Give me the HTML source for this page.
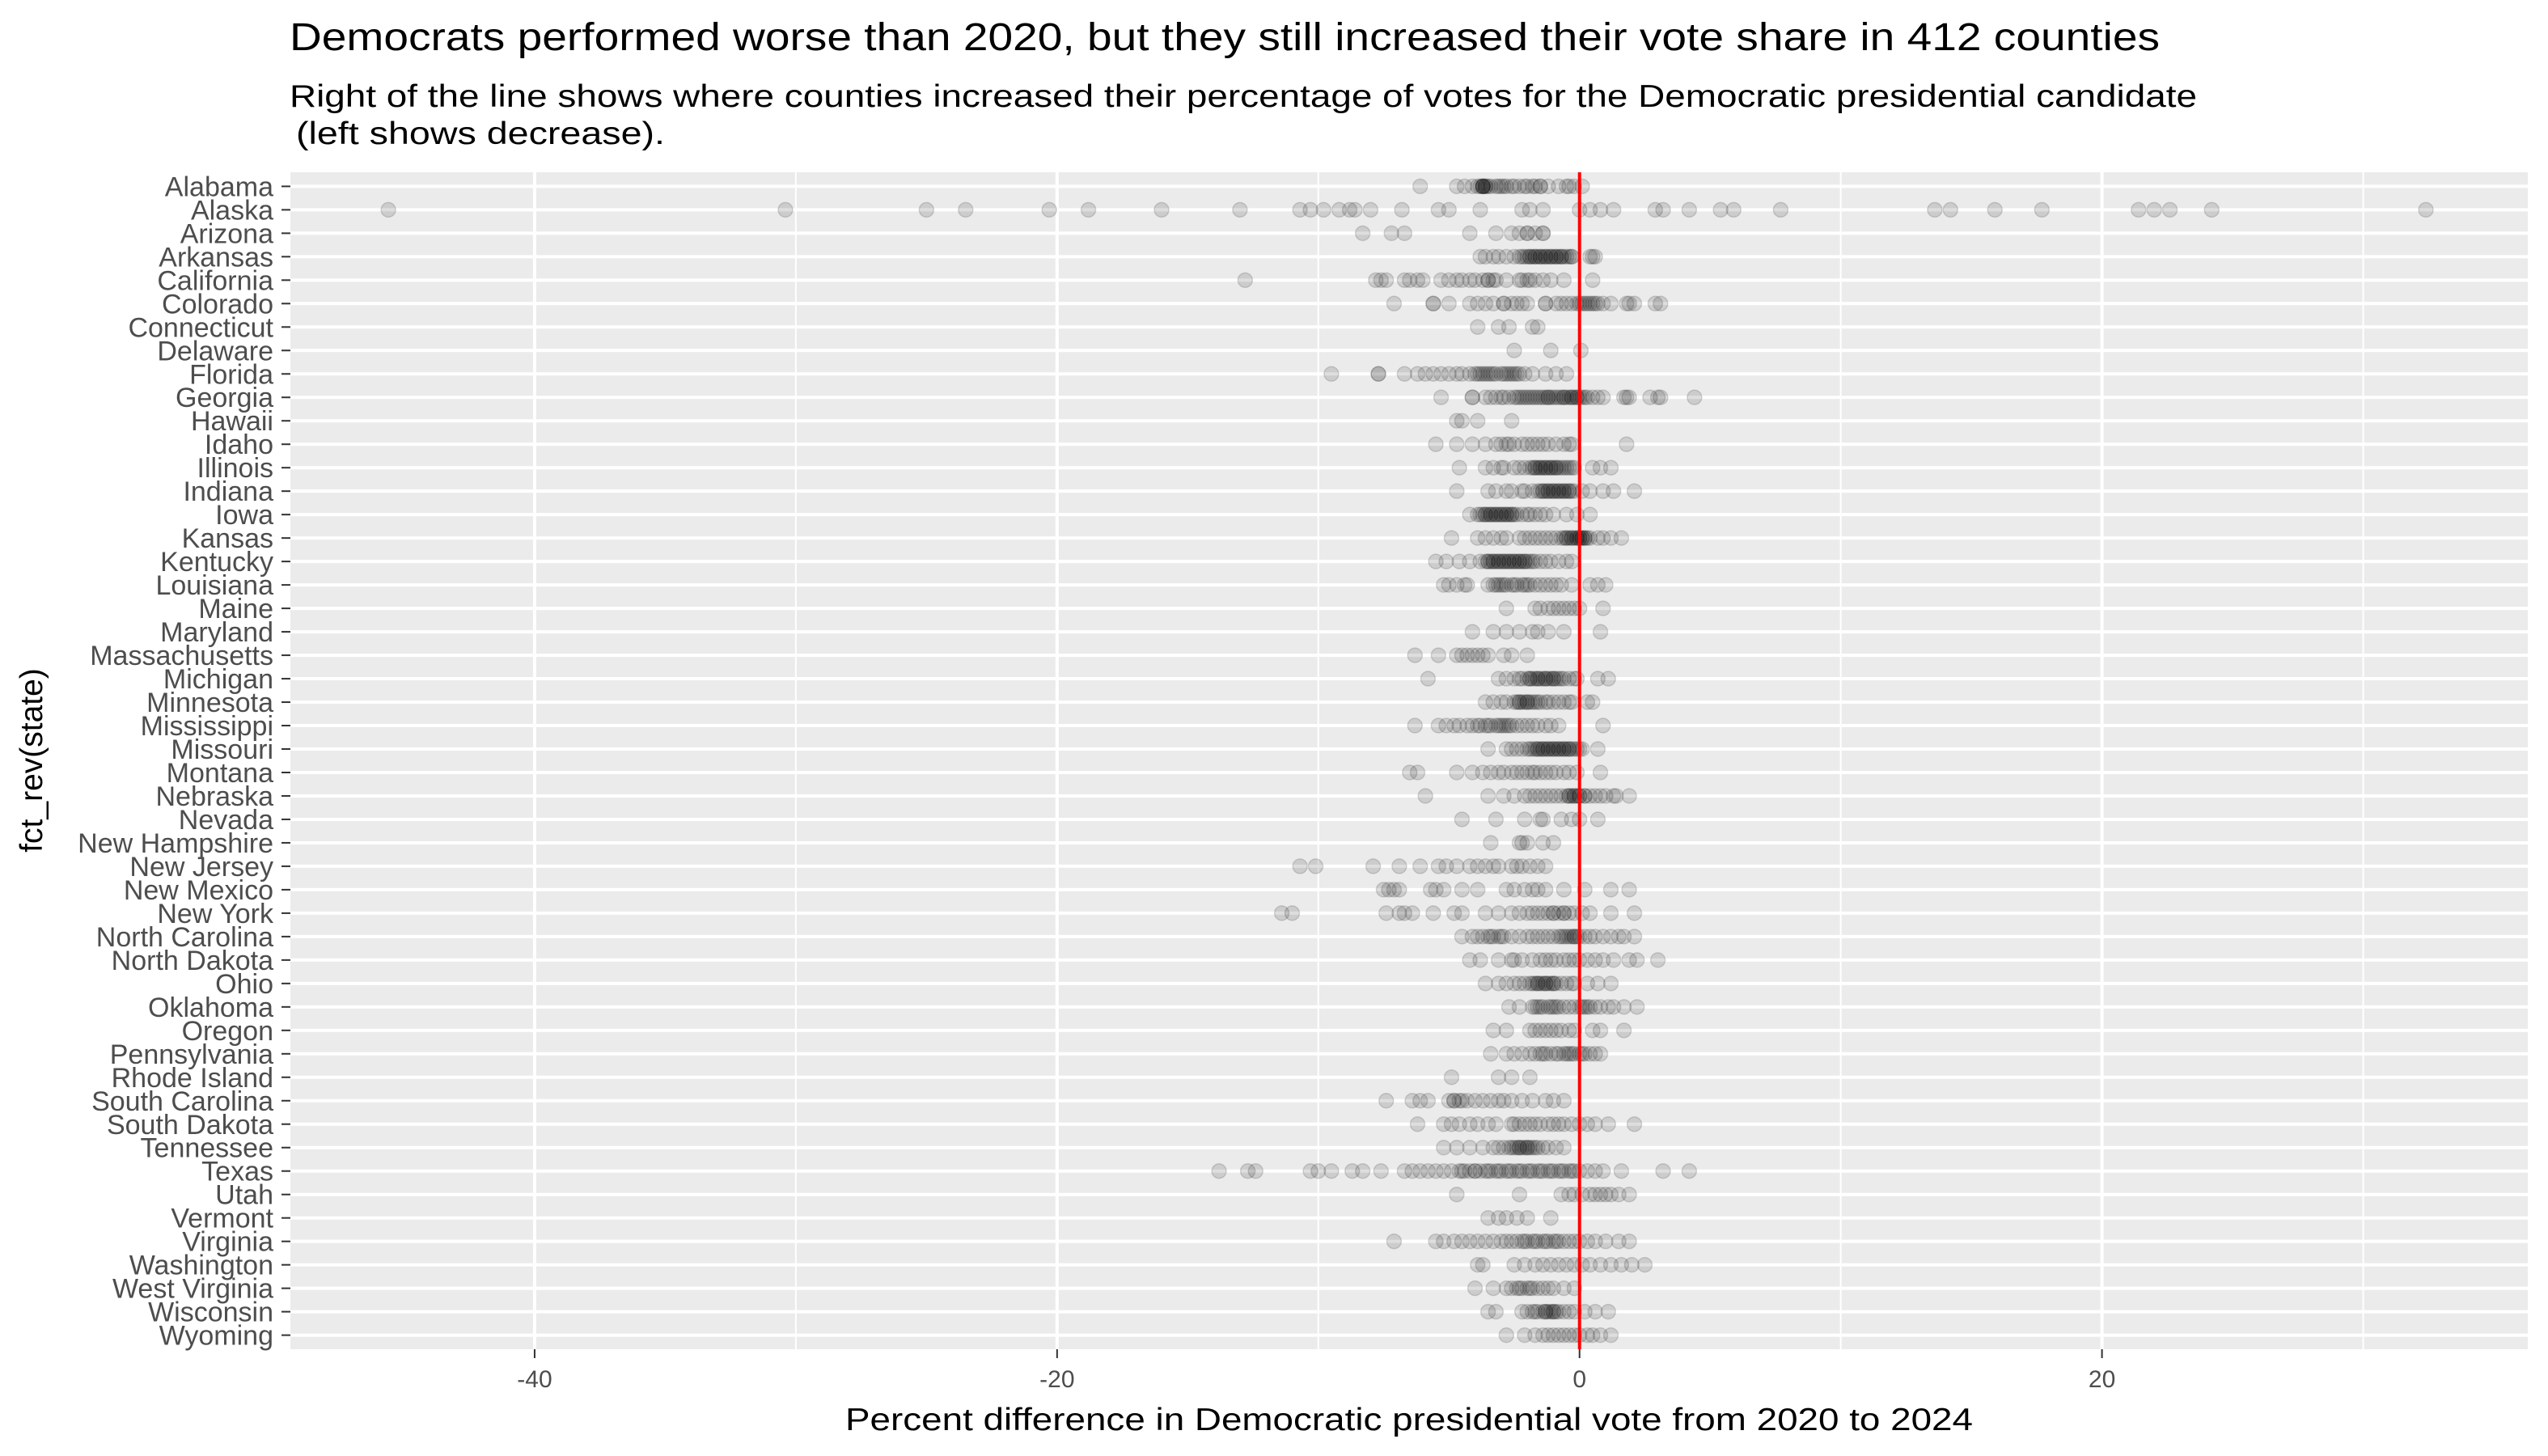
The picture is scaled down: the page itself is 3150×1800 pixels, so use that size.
<!DOCTYPE html>
<html><head><meta charset="utf-8"><style>
html,body{margin:0;padding:0;background:#fff;}
svg{display:block;font-family:"Liberation Sans",Arial,sans-serif;}
</style></head><body>
<svg id="chart" width="3150" height="1800" viewBox="0 0 3150 1800" xmlns="http://www.w3.org/2000/svg">
<rect width="3150" height="1800" fill="#fff"/>
<text x="358" y="62" font-size="48" fill="#000" textLength="2312" lengthAdjust="spacingAndGlyphs">Democrats performed worse than 2020, but they still increased their vote share in 412 counties</text>
<text x="358" y="132" font-size="39" fill="#000" textLength="2358" lengthAdjust="spacingAndGlyphs">Right of the line shows where counties increased their percentage of votes for the Democratic presidential candidate</text>
<text x="366" y="178" font-size="39" fill="#000" textLength="456" lengthAdjust="spacingAndGlyphs">(left shows decrease).</text>
<g id="panel"></g>
<text x="1742" y="1768" font-size="39" fill="#000" text-anchor="middle" textLength="1394" lengthAdjust="spacingAndGlyphs">Percent difference in Democratic presidential vote from 2020 to 2024</text>
<text transform="translate(52,940) rotate(-90)" font-size="39" fill="#000" text-anchor="middle">fct_rev(state)</text>
</svg>
<script>
const states = ["Alabama","Alaska","Arizona","Arkansas","California","Colorado","Connecticut","Delaware","Florida","Georgia","Hawaii","Idaho","Illinois","Indiana","Iowa","Kansas","Kentucky","Louisiana","Maine","Maryland","Massachusetts","Michigan","Minnesota","Mississippi","Missouri","Montana","Nebraska","Nevada","New Hampshire","New Jersey","New Mexico","New York","North Carolina","North Dakota","Ohio","Oklahoma","Oregon","Pennsylvania","Rhode Island","South Carolina","South Dakota","Tennessee","Texas","Utah","Vermont","Virginia","Washington","West Virginia","Wisconsin","Wyoming"];
const xTicks = [-40,-20,0,20];
const xTickLabels = ["-40","-20","0","20"];
const xMinor = [-30,-10,10,30];
const xDomain = [-49.35,36.3];
const vAlabama=[-6.1,-4.7,-4.4,-4.1,-3.9,-3.7,-3.7,-3.7,-3.7,-3.8,-3.6,-3.6,-3.5,-3.4,-3.2,-3.1,-3,-2.9,-2.8,-2.6,-2.5,-2.3,-2.1,-2,-1.8,-1.7,-1.5,-1.5,-1.2,-0.8,-0.5,-0.4,-0.2,0.1];
const vAlaska=[-45.6,-30.4,-25,-23.5,-20.3,-18.8,-16,-13,-10.7,-10.3,-9.8,-9.2,-8.8,-8.6,-8,-6.8,-5.4,-5,-3.8,-2.2,-1.9,-1.4,0,0.4,0.8,1.3,2.9,3.2,4.2,5.4,5.9,7.7,13.6,14.2,15.9,17.7,21.4,22,22.6,24.2,32.4];
const vArizona=[-8.3,-7.2,-6.7,-4.2,-3.2,-2.6,-2.3,-2,-2,-1.7,-1.4,-1.4];
const vArkansas=[-3.8,-3.6,-3.3,-3.1,-2.8,-2.5,-2.3,-2.2,-2.1,-2,-1.9,-1.8,-1.7,-1.6,-1.5,-1.4,-1.3,-1.2,-1.1,-1,-0.9,-0.8,-0.7,-0.6,-0.5,-0.4,-0.3,-0.3,-1.9,-1.7,-1.5,-1.3,-1.1,-0.9,-0.7,0.4,0.5,0.6];
const vCalifornia=[-12.8,-7.8,-7.6,-7.4,-6.7,-6.5,-6.2,-6,-5.3,-5,-4.7,-4.5,-4.2,-4,-3.7,-3.5,-3.5,-3.3,-3.2,-2.8,-2.3,-2.2,-2,-1.9,-1.7,-1.4,-1.1,-0.6,0.5];
const vColorado=[-7.1,-5.6,-5.6,-5,-4.2,-3.9,-3.6,-3.3,-2.9,-2.9,-2.6,-2.4,-2.2,-2,-1.3,-1.3,-0.9,-0.7,-0.5,-0.3,-0.1,0,0.2,0.3,0.5,0.7,0.9,1.2,0.1,0.4,0.6,1.8,1.9,2.1,2.9,3.1];
const vConnecticut=[-3.9,-3.1,-2.7,-1.8,-1.6];
const vDelaware=[-2.5,-1.1,0.05];
const vFlorida=[-9.5,-7.7,-7.7,-6.7,-6.2,-5.9,-5.6,-5.3,-5,-4.7,-4.5,-4.2,-4,-3.9,-3.7,-3.5,-3.4,-3.2,-3,-2.8,-2.6,-2.5,-2.4,-2.1,-1.8,-1.3,-0.9,-0.5,-3.8,-3.6,-3.3,-2.9,-2.7,-2.3];
const vGeorgia=[-5.3,-4.1,-4.1,-3.6,-3.4,-3.2,-3,-2.9,-2.7,-2.5,-2.4,-2.3,-2.1,-2,-1.8,-1.7,-1.6,-1.4,-1.3,-1.2,-1.1,-1,-0.8,-0.7,-0.6,-0.5,-0.4,-0.3,-0.2,-0.1,0,0.1,0.3,0.5,0.7,0.9,-2.2,-1.9,-1.5,-1.2,-0.9,-0.6,-0.3,-0.1,0.2,1.7,1.8,1.9,2.7,3,3.1,4.4];
const vHawaii=[-4.7,-4.5,-3.9,-2.6];
const vIdaho=[-5.5,-4.7,-4.1,-3.6,-3.2,-3,-2.8,-2.7,-2.5,-2.2,-2,-1.8,-1.6,-1.4,-1.2,-0.9,-0.6,-0.4,-0.3,1.8];
const vIllinois=[-4.6,-3.6,-3.3,-3,-2.9,-2.5,-2.3,-2.1,-1.9,-1.8,-1.7,-1.6,-1.5,-1.4,-1.3,-1.2,-1.1,-1,-0.9,-0.8,-0.6,-0.4,-0.3,-0.2,-1.7,-1.5,-1.3,-1.1,-0.9,-0.7,-0.5,0.5,0.8,1.2];
const vIndiana=[-4.7,-3.5,-3.2,-2.8,-2.6,-2.2,-2.1,-1.8,-1.6,-1.5,-1.4,-1.3,-1.2,-1.1,-1,-0.9,-0.8,-0.7,-0.6,-0.5,-0.4,-0.3,-0.2,-1.4,-1.2,-1,-0.8,-0.6,-0.4,0.1,0.4,0.9,1.3,2.1];
const vIowa=[-4.2,-3.9,-3.8,-3.7,-3.6,-3.5,-3.4,-3.3,-3.2,-3.1,-3,-2.9,-2.8,-2.7,-2.6,-2.5,-2.4,-2.2,-2,-1.9,-1.7,-1.5,-1.3,-3.6,-3.4,-3.2,-3,-2.8,-2.6,-1,-0.5,-0.1,0.4];
const vKansas=[-4.9,-3.9,-3.6,-3.3,-3,-2.8,-2.3,-2.1,-1.9,-1.7,-1.5,-1.3,-1.1,-0.9,-0.7,-0.6,-0.5,-0.4,-0.3,-0.2,-0.1,0,0.1,0.2,0.3,0.4,-0.5,-0.3,-0.1,0,0.1,0.2,0.7,0.9,1.2,1.6];
const vKentucky=[-5.5,-5.1,-4.6,-4.2,-3.8,-3.6,-3.5,-3.4,-3.3,-3.2,-3.1,-3,-2.9,-2.8,-2.7,-2.6,-2.5,-2.4,-2.3,-2.2,-2.1,-2,-1.9,-1.8,-1.7,-3.5,-3.3,-3.1,-2.9,-2.7,-2.5,-2.3,-2.1,-1.5,-1.3,-1.1,-0.8,-0.5,-0.3];
const vLouisiana=[-5.2,-5,-4.7,-4.4,-4.3,-3.5,-3.3,-3.1,-3,-2.8,-2.6,-2.4,-2.2,-2.1,-2,-1.9,-1.7,-1.5,-1.3,-1.1,-0.9,-0.7,-0.3,-3.2,-2.9,-2.5,0.4,0.7,1];
const vMaine=[-2.8,-1.7,-1.5,-1.2,-1,-0.8,-0.6,-0.4,-0.2,0,0.9];
const vMaryland=[-4.1,-3.3,-2.8,-2.3,-1.8,-1.6,-1.2,-0.6,0.8];
const vMassachusetts=[-6.3,-5.4,-4.7,-4.5,-4.3,-4.1,-3.9,-3.7,-3.5,-2.9,-2.6,-2];
const vMichigan=[-5.8,-3.1,-2.8,-2.5,-2.3,-2.2,-2,-1.9,-1.8,-1.7,-1.6,-1.5,-1.4,-1.3,-1.2,-1.1,-1,-0.9,-0.8,-0.6,-0.4,-0.2,-0.1,-1.9,-1.6,-1.3,-1,-0.7,0.7,1.1];
const vMinnesota=[-3.6,-3.3,-3,-2.8,-2.5,-2.4,-2.3,-2.2,-2.1,-2,-1.9,-1.8,-1.6,-1.5,-1.3,-1.2,-1,-0.8,-0.6,-0.4,-0.3,-2.3,-2,-1.7,0.3,0.5];
const vMississippi=[-6.3,-5.4,-5.1,-4.8,-4.6,-4.3,-4.1,-3.9,-3.8,-3.6,-3.4,-3.2,-3,-2.9,-2.8,-2.6,-2.4,-2.2,-2,-1.8,-1.6,-1.3,-1.1,-0.8,-3.5,-3.1,-2.7,0.9];
const vMissouri=[-3.5,-2.8,-2.6,-2.4,-2.2,-2,-1.9,-1.8,-1.7,-1.6,-1.5,-1.4,-1.3,-1.2,-1.1,-1,-0.9,-0.8,-0.7,-0.6,-0.5,-0.4,-0.3,-0.2,-0.1,0,0.1,-1.6,-1.4,-1.2,-1,-0.8,-0.6,-0.4,0.7];
const vMontana=[-6.5,-6.2,-4.7,-4.1,-3.7,-3.4,-3.1,-2.9,-2.6,-2.4,-2.2,-2,-1.8,-1.7,-1.5,-1.3,-1.1,-0.9,-0.6,-0.4,-0.1,0.8];
const vNebraska=[-5.9,-3.5,-2.9,-2.5,-2.1,-1.9,-1.7,-1.5,-1.3,-1.1,-0.9,-0.7,-0.5,-0.4,-0.3,-0.2,-0.1,0,0.2,0.4,0.6,0.8,1,1.3,-0.4,-0.2,0,0.2,1.4,1.9];
const vNevada=[-4.5,-3.2,-2.1,-1.5,-1.4,-0.7,-0.3,0,0.7];
const vNewHampshire=[-3.4,-2.3,-2.2,-2,-1.4,-1];
const vNewJersey=[-10.7,-10.1,-7.9,-6.9,-6.1,-5.4,-5.1,-4.7,-4.2,-3.9,-3.6,-3.3,-3.1,-2.6,-2.4,-2.2,-1.9,-1.6,-1.3];
const vNewMexico=[-7.5,-7.3,-7.1,-6.9,-5.7,-5.5,-5.2,-4.5,-3.9,-2.8,-2.5,-2.1,-1.8,-1.6,-1.3,-0.6,0.2,1.2,1.9];
const vNewYork=[-11.4,-11,-7.4,-6.9,-6.7,-6.4,-5.6,-4.8,-4.5,-3.6,-3.1,-2.6,-2.3,-2,-1.8,-1.6,-1.4,-1.2,-1,-0.8,-0.6,-0.4,-0.2,-1,-0.6,0.1,0.4,1.2,2.1];
const vNorthCarolina=[-4.5,-4.1,-3.9,-3.7,-3.3,-3.1,-2.9,-2.6,-2.3,-2,-1.8,-1.6,-1.4,-1.2,-1,-0.8,-0.6,-0.4,-0.3,-0.2,-0.1,0,0.2,0.4,0.6,-3.5,-3.4,-3,-0.7,-0.5,-0.2,0.9,1.2,1.5,1.7,2.1];
const vNorthDakota=[-4.2,-3.8,-3.1,-2.6,-2.5,-2.2,-1.8,-1.5,-1.3,-1.1,-0.9,-0.6,-0.4,-0.2,0,0.3,0.6,0.9,1.3,1.9,2.2,3];
const vOhio=[-3.6,-3.1,-2.8,-2.5,-2.3,-2.1,-1.9,-1.8,-1.7,-1.6,-1.5,-1.4,-1.3,-1.2,-1.1,-1,-0.9,-0.7,-0.5,-0.3,-0.2,-1.6,-1.3,-1,0.3,0.7,1.2];
const vOklahoma=[-2.7,-2.3,-1.8,-1.6,-1.4,-1.2,-1.1,-1,-0.9,-0.8,-0.6,-0.4,-0.2,0,0.2,0.3,0.4,0.6,-1.7,-1.5,0.1,0.8,1.1,1.3,1.7,2.2];
const vOregon=[-3.3,-2.8,-1.9,-1.7,-1.5,-1.3,-1.1,-0.9,-0.7,-0.4,-0.2,0.5,0.8,1.7];
const vPennsylvania=[-3.4,-2.8,-2.5,-2.2,-1.9,-1.7,-1.5,-1.3,-1.1,-0.9,-0.8,-0.6,-0.4,-0.3,-0.2,0,0.2,0.4,0.6,0.8,-1.4,-0.5,0.1];
const vRhodeIsland=[-4.9,-3.1,-2.6,-1.9];
const vSouthCarolina=[-7.4,-6.4,-6.1,-5.8,-5,-4.8,-4.6,-4.3,-4,-3.7,-3.4,-3.1,-2.9,-2.6,-2.2,-1.8,-1.3,-1,-0.6,-4.8,-4.5];
const vSouthDakota=[-6.2,-5.2,-4.9,-4.6,-4.2,-3.9,-3.5,-3.2,-2.6,-2.5,-2.3,-2.1,-1.9,-1.7,-1.5,-1.2,-1,-0.8,-0.6,-0.3,0,0.3,0.6,1.1,2.1];
const vTennessee=[-5.2,-4.7,-4.2,-3.7,-3.3,-3.1,-2.9,-2.7,-2.5,-2.4,-2.3,-2.2,-2.1,-2,-1.9,-1.8,-1.6,-1.4,-1.2,-0.9,-0.6,-2.6,-2.3,-2,-1.7];
const vTexas=[-13.8,-12.4,-12.7,-10.3,-10,-9.5,-8.7,-8.3,-7.6,-6.7,-6.4,-6.1,-5.8,-5.5,-5.2,-4.9,-4.6,-4.4,-4.2,-4,-3.8,-3.6,-3.4,-3.2,-3,-2.8,-2.6,-2.4,-2.2,-2,-1.8,-1.6,-1.4,-1.2,-1,-0.8,-0.6,-0.4,-0.2,0,-4.5,-4,-3.5,-3.1,-2.7,-2.3,-1.9,-1.5,-1.1,-0.7,-0.3,0.3,0.6,0.9,1.6,3.2,4.2];
const vUtah=[-4.7,-2.3,-0.7,-0.4,-0.2,0.1,0.4,0.6,0.8,1,1.2,1.5,1.9];
const vVermont=[-3.5,-3.1,-2.8,-2.4,-2,-1.1];
const vVirginia=[-7.1,-5.5,-5.2,-4.8,-4.5,-4.2,-3.9,-3.6,-3.3,-3,-2.8,-2.6,-2.4,-2.2,-2,-1.8,-1.6,-1.4,-1.2,-1,-0.8,-0.6,-0.4,-0.2,0,-2.1,-1.7,-1.3,-0.9,0.3,0.6,1,1.5,1.9];
const vWashington=[-3.9,-3.7,-2.5,-2.1,-1.7,-1.4,-1.1,-0.8,-0.5,-0.2,0.1,0.4,0.8,1.2,1.6,2,2.5];
const vWestVirginia=[-4,-3.3,-2.8,-2.6,-2.4,-2.2,-2,-1.8,-1.6,-1.4,-1.2,-1,-0.6,-0.2,-2.3,-1.9];
const vWisconsin=[-3.5,-3.2,-2.2,-2,-1.8,-1.6,-1.4,-1.3,-1.2,-1.1,-1,-0.9,-0.8,-0.6,-0.4,-0.2,-1.7,-1.3,-1,0.2,0.6,1.1];
const vWyoming=[-2.8,-2.1,-1.7,-1.4,-1.2,-1,-0.8,-0.6,-0.4,-0.2,0,0.3,0.5,0.8,1.2];
const values=[vAlabama,vAlaska,vArizona,vArkansas,vCalifornia,vColorado,vConnecticut,vDelaware,vFlorida,vGeorgia,vHawaii,vIdaho,vIllinois,vIndiana,vIowa,vKansas,vKentucky,vLouisiana,vMaine,vMaryland,vMassachusetts,vMichigan,vMinnesota,vMississippi,vMissouri,vMontana,vNebraska,vNevada,vNewHampshire,vNewJersey,vNewMexico,vNewYork,vNorthCarolina,vNorthDakota,vOhio,vOklahoma,vOregon,vPennsylvania,vRhodeIsland,vSouthCarolina,vSouthDakota,vTennessee,vTexas,vUtah,vVermont,vVirginia,vWashington,vWestVirginia,vWisconsin,vWyoming];

const NS="http://www.w3.org/2000/svg";
const L=359,R=3125,T=213,B=1668;
const xs=v=>L+(v-xDomain[0])/(xDomain[1]-xDomain[0])*(R-L);
const rowH=(B-T)/(states.length+0.2);
const ys=i=>T+rowH*0.6+i*rowH;
const panel=document.getElementById('panel');
function mk(tag,attrs,parent){const e=document.createElementNS(NS,tag);for(const k in attrs)e.setAttribute(k,attrs[k]);(parent||panel).appendChild(e);return e;}

const bg=mk('rect',{x:L,y:T,width:R-L,height:B-T,fill:'#ebebeb'});


xMinor.forEach(v=>{const l=mk('line',{x1:xs(v),x2:xs(v),y1:T,y2:B,stroke:'#fff','stroke-width':2});

});
xTicks.forEach(v=>{const l=mk('line',{x1:xs(v),x2:xs(v),y1:T,y2:B,stroke:'#fff','stroke-width':4});

});
states.forEach((s,i)=>{const l=mk('line',{x1:L,x2:R,y1:ys(i),y2:ys(i),stroke:'#fff','stroke-width':4});

});

const pts=mk('g',{});


values.forEach((arr,i)=>{arr.forEach(v=>{
 const c=mk('circle',{cx:xs(v),cy:ys(i),r:9,fill:'#000','fill-opacity':0.13,stroke:'#000','stroke-opacity':0.14,'stroke-width':1.5},pts);
 
 
});});

const zl=mk('line',{x1:xs(0),x2:xs(0),y1:T,y2:B,stroke:'#ff0000','stroke-width':4});



states.forEach((s,i)=>{
 const tk=mk('line',{x1:L-11,x2:L,y1:ys(i),y2:ys(i),stroke:'#333','stroke-width':2});
 
 
 const t=mk('text',{x:L-21,y:ys(i)+12,'font-size':34,fill:'#4d4d4d','text-anchor':'end'});
 t.textContent=s;
 
 
});
xTicks.forEach((v,i)=>{
 const tk=mk('line',{x1:xs(v),x2:xs(v),y1:B,y2:B+11,stroke:'#333','stroke-width':2});
 
 
 const t=mk('text',{x:xs(v),y:B+47,'font-size':30,fill:'#4d4d4d','text-anchor':'middle'});
 t.textContent=xTickLabels[i];
 
 
});
</script>
</body></html>
